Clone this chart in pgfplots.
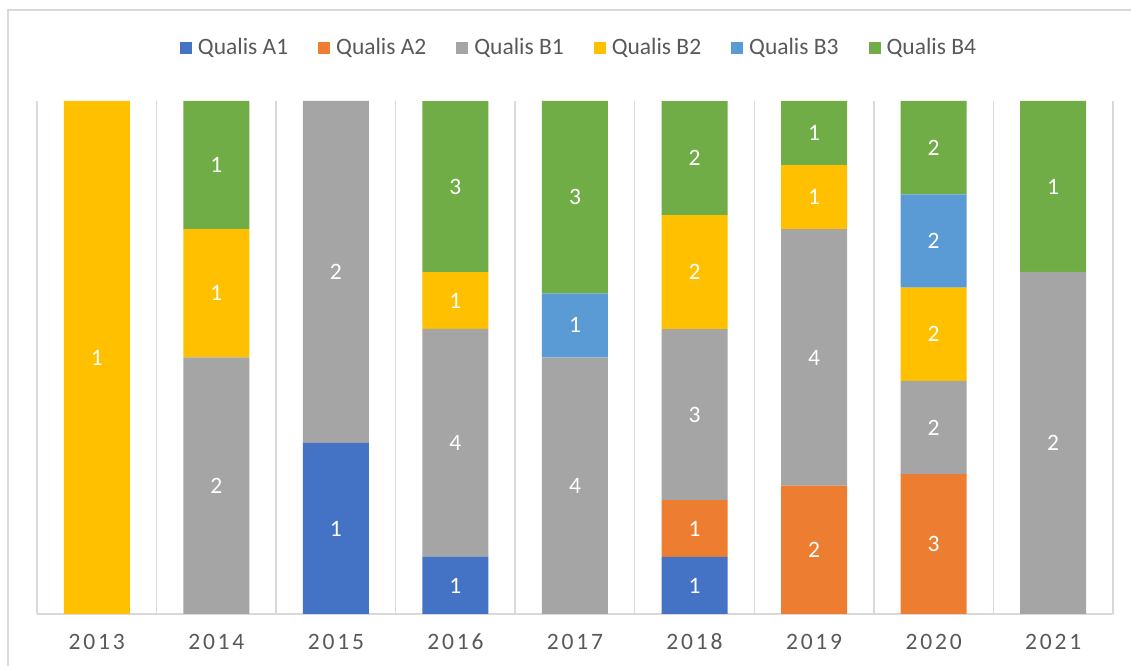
\documentclass[border=0pt]{standalone}
\usepackage{fontspec}
\setmainfont{Carlito}
\newfontfamily\spaced[LetterSpace=12]{Carlito}
\usepackage{pgfplots}
\pgfplotsset{compat=1.18}
\usepackage{pgfplotstable}
\definecolor{cA1}{HTML}{4472C4}
\definecolor{cA2}{HTML}{ED7D31}
\definecolor{cB1}{HTML}{A5A5A5}
\definecolor{cB2}{HTML}{FFC000}
\definecolor{cB3}{HTML}{5B9BD5}
\definecolor{cB4}{HTML}{70AD47}
\definecolor{txt}{HTML}{595959}
\definecolor{gridc}{HTML}{D9D9D9}

\pgfplotstableread{
x A1 A2 B1 B2 B3 B4 T
0 0 0 0 1 0 0 1
1 0 0 2 1 0 1 4
2 1 0 2 0 0 0 3
3 1 0 4 1 0 3 9
4 0 0 4 0 1 3 8
5 1 1 3 2 0 2 9
6 0 2 4 1 0 1 8
7 0 3 2 2 2 2 11
8 0 0 2 0 0 1 3
}\counts

\newcommand\chartfont{\fontsize{23.5bp}{28bp}\selectfont}
\pgfplotsset{
  seg/.style={fill=#1, draw=none, point meta=explicit symbolic},
}

\begin{document}
\begin{tikzpicture}[x=1bp,y=1bp]
\useasboundingbox (0,0) rectangle (1131,666);
\fill[white] (0,0) rectangle (1131,666);
\draw[gridc, line width=2bp] (8,-5) -- (8,656) -- (1140,656);
\begin{axis}[
  at={(37bp,52bp)}, anchor=south west,
  scale only axis, width=1076bp, height=513bp,
  xmin=-0.5, xmax=8.5, ymin=0, ymax=100,
  ybar stacked, bar width=66bp,
  axis line style={draw=none},
  xtick={0,...,8},
  xticklabels={2013,2014,2015,2016,2017,2018,2019,2020,2021},
  major tick length=0pt, minor tick length=0pt,
  minor xtick={-0.5,0.5,...,8.5},
  xminorgrids, xmajorgrids=false,
  ytick={0}, yticklabels={}, ymajorgrids,
  minor grid style={draw=gridc, line width=1.5bp},
  major grid style={draw=gridc, line width=1.5bp},
  x tick label style={font=\spaced\chartfont, text=txt, text height=15bp, text depth=0pt, yshift=-17bp},
  nodes near coords={\ifnum\pgfplotspointmeta>0 \pgfplotspointmeta\fi},
  every node near coord/.append style={anchor=center, font=\chartfont, text=white},
  legend columns=6,
  legend style={at={(axis description cs:0.5056,1.105)}, anchor=center, draw=none, fill=none,
    font=\chartfont, text=txt,
    /tikz/every even column/.append style={column sep=24bp},
    nodes={inner xsep=6bp, inner ysep=0pt}},
  legend image code/.code={\fill[#1] (0bp,-7bp) rectangle (12bp,5bp);},
]
\addplot[seg=cA1] table[x=x, y expr=100*\thisrow{A1}/\thisrow{T}, meta=A1] {\counts};
\addplot[seg=cA2] table[x=x, y expr=100*\thisrow{A2}/\thisrow{T}, meta=A2] {\counts};
\addplot[seg=cB1] table[x=x, y expr=100*\thisrow{B1}/\thisrow{T}, meta=B1] {\counts};
\addplot[seg=cB2] table[x=x, y expr=100*\thisrow{B2}/\thisrow{T}, meta=B2] {\counts};
\addplot[seg=cB3] table[x=x, y expr=100*\thisrow{B3}/\thisrow{T}, meta=B3] {\counts};
\addplot[seg=cB4] table[x=x, y expr=100*\thisrow{B4}/\thisrow{T}, meta=B4] {\counts};
\legend{Qualis A1,Qualis A2,Qualis B1,Qualis B2,Qualis B3,Qualis B4}
\end{axis}
\end{tikzpicture}
\end{document}
